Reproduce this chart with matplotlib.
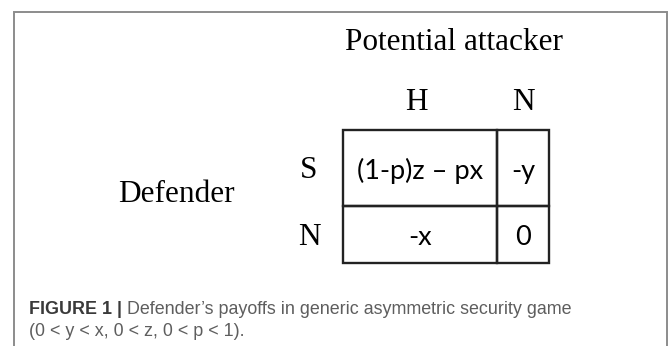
import matplotlib.pyplot as plt
from matplotlib.patches import Rectangle

# labels of the payoff matrix
title = "Potential attacker"
player = "Defender"
col_labels = ["H", "N"]
row_labels = ["S", "N"]
payoffs = [["(1-p)z \u2013 px", "-y"],
           ["-x", "0"]]
caption_bold = "FIGURE 1 |"
caption_lines = [" Defender\u2019s payoffs in generic asymmetric security game",
                 "(0 < y < x, 0 < z, 0 < p < 1)."]

W, H = 669, 346
fig = plt.figure(figsize=(W / 100, H / 100), dpi=100)
ax = fig.add_axes([0, 0, 1, 1])
ax.set_xlim(0, W)
ax.set_ylim(H, 0)
ax.axis("off")

# outer frame (open at the bottom)
ax.plot([14, 14, 667, 667], [H, 11.5, 11.5, H], color="#8c8c8c", lw=1.4,
        solid_joinstyle="miter")

# grid geometry in pixels
col_edges = [343, 497, 549]
row_edges = [130, 206, 263]

serif = "Liberation Serif"
cell_font = "Lato"

ax.text(454, 43, title, fontsize=22.5, family=serif, ha="center", va="center")
ax.text(176, 195, player, fontsize=22.5, family=serif, ha="center", va="center")

for j, lab in enumerate(col_labels):
    cx = (col_edges[j] + col_edges[j + 1]) / 2 - (4 if j == 0 else 0)
    ax.text(cx, 103, lab, fontsize=22.5, family=serif, ha="center", va="center")

for i, lab in enumerate(row_labels):
    cy = (row_edges[i] + row_edges[i + 1]) / 2
    ax.text(309, cy + 3, lab, fontsize=22.5, family=serif, ha="center", va="center")

# cells
for i in range(len(row_labels)):
    for j in range(len(col_labels)):
        x0, x1 = col_edges[j], col_edges[j + 1]
        y0, y1 = row_edges[i], row_edges[i + 1]
        ax.add_patch(Rectangle((x0, y0), x1 - x0, y1 - y0, fill=False,
                               edgecolor="#222222", lw=1.7))
        ax.text((x0 + x1) / 2, (y0 + y1) / 2 + 3, payoffs[i][j], fontsize=19.5,
                family=cell_font, ha="center", va="center", color="black")

# caption
cap_font = "Liberation Sans"
cap_size = 12.9
t = ax.text(29, 310, caption_bold, fontsize=cap_size, family=cap_font,
            fontweight="bold", color="#3a3a3a", ha="left", va="center")
fig.canvas.draw()
bb = t.get_window_extent()
x_end = bb.x1
ax.annotate(caption_lines[0], xy=(x_end, H - 310), xycoords="figure pixels",
            fontsize=cap_size, family=cap_font, color="#5e5e5e", ha="left", va="center")
ax.text(29, 332, caption_lines[1], fontsize=cap_size, family=cap_font,
        color="#5e5e5e", ha="left", va="center")

fig.savefig("out.png", dpi=100)
